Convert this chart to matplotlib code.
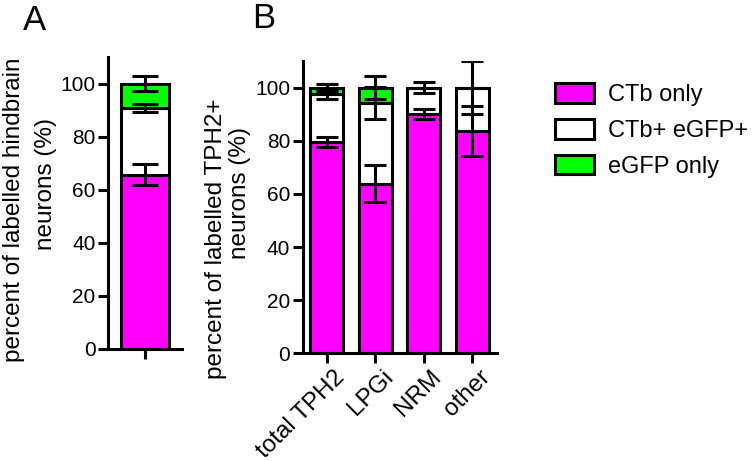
import matplotlib
matplotlib.use("Agg")
import matplotlib.pyplot as plt
import matplotlib.transforms as mtransforms
from matplotlib.patches import Patch
import numpy as np

plt.rcParams['font.family'] = ['Liberation Sans', 'DejaVu Sans']

magenta = '#FF00FF'
green = '#00FF00'

series = ['CTb only', 'CTb+ eGFP+', 'eGFP only']
colors = [magenta, 'white', green]

# panel A - hindbrain neurons (one bar)
a_vals = [65.7, 25.1, 9.2]
a_errs = [4.0, 1.5, 2.7]

# panel B - TPH2+ neurons per region
b_groups = ['total TPH2', 'LPGi', 'NRM', 'other']
b_ctb = [79.5, 63.9, 89.9, 83.6]
b_both = [18.2, 30.2, 10.1, 16.4]
b_gfp = [2.3, 5.9, 0.0, 0.0]
b_ctb_err = [2.0, 7.0, 1.9, 9.4]
b_both_err = [1.8, 6.1, 2.2, 9.9]
b_gfp_err = [1.4, 4.2, 0.0, 0.0]

lw = 2.2
tick_fs = 15
label_fs = 17.5
W, H = 754, 461
fig = plt.figure(figsize=(W / 100, H / 100), dpi=100)


def style(ax):
    for s in ['top', 'right']:
        ax.spines[s].set_visible(False)
    for s in ['left', 'bottom']:
        ax.spines[s].set_linewidth(lw)
    ax.set_ylim(0, 110)
    ax.set_yticks(np.arange(0, 101, 20))
    ax.tick_params(width=lw, length=7, labelsize=tick_fs, pad=2)


def stacked(ax, x, layers, errs, width, cap):
    bottom = np.zeros(len(x))
    tops = []
    for vals, c in zip(layers, colors):
        vals = np.array(vals, dtype=float)
        ax.bar(x, vals, width, bottom=bottom, color=c, edgecolor='black',
               linewidth=lw, zorder=2)
        bottom = bottom + vals
        tops.append(bottom.copy())
    for top, e, vals in zip(tops, errs, layers):
        e = np.array(e, dtype=float)
        m = np.array(vals) > 0
        ax.errorbar(np.array(x)[m], top[m], yerr=e[m], fmt='none',
                    ecolor='black', elinewidth=lw, capsize=cap, capthick=lw,
                    zorder=3)


def ylab(lines, centers):
    # two-line rotated y label, each line placed on its own (pixel centres)
    for txt, (px, py) in zip(lines, centers):
        fig.text(px / W, 1 - py / H, txt, rotation=90, ha='center',
                 va='center', fontsize=label_fs)


# panel A
axA = fig.add_axes([0.1432, 0.2430, 0.0981, 0.6334])
stacked(axA, [0], [[v] for v in a_vals], [[e] for e in a_errs], 0.99, 9.7)
axA.set_xlim(-0.75, 0.75)
style(axA)
axA.set_xticks([0])
axA.set_xticklabels([''])
ylab(['percent of labelled hindbrain', 'neurons (%)'], [(14, 210), (46, 184)])
fig.text(0.030, 0.955, 'A', fontsize=25, va='center')

# panel B
axB = fig.add_axes([0.4015, 0.2336, 0.2573, 0.634])
xb = np.arange(len(b_groups))
stacked(axB, xb, [b_ctb, b_both, b_gfp], [b_ctb_err, b_both_err, b_gfp_err],
        0.68, 8)
axB.set_xlim(-0.5, 3.5)
style(axB)
axB.set_xticks(xb)
axB.set_xticklabels(b_groups, rotation=45, ha='right', va='center',
                    rotation_mode='anchor', fontsize=label_fs)
shift = mtransforms.ScaledTranslation(0.14, -0.08, fig.dpi_scale_trans)
for t in axB.get_xticklabels():
    t.set_transform(t.get_transform() + shift)
ylab(['percent of labelled TPH2+', 'neurons (%)'], [(216, 239), (240, 193)])
fig.text(0.334, 0.96, 'B', fontsize=25, va='center')

handles = [Patch(facecolor=c, edgecolor='black', linewidth=lw) for c in colors]
fig.legend(handles, series, loc='upper left', bbox_to_anchor=(0.736, 0.82),
           frameon=False, fontsize=17, handlelength=1.65, handleheight=0.9,
           handletextpad=0.6, labelspacing=0.55, borderpad=0, borderaxespad=0)

fig.savefig('out.png', dpi=100)
